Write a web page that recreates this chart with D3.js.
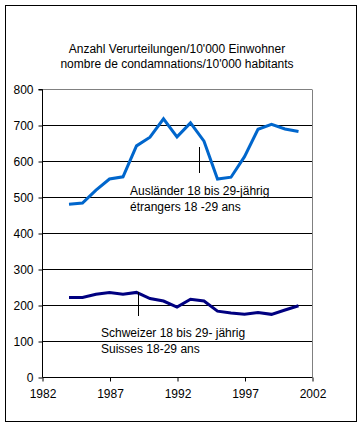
<!DOCTYPE html>
<html>
<head>
<meta charset="utf-8">
<script src="https://cdn.jsdelivr.net/npm/d3@7"></script>
<style>
  body { margin: 0; background: #fff; }
  text { font-family: Arial, "Liberation Sans", sans-serif; }
</style>
</head>
<body>
<div id="chart"></div>
<script>
const years = [1984, 1985, 1986, 1987, 1988, 1989, 1990, 1991, 1992, 1993,
  1994, 1995, 1996, 1997, 1998, 1999, 2000, 2001];
const auslaender = [480, 483, 519, 550, 556, 642, 666, 717, 667, 706,
  655, 550, 555, 612, 688, 702, 689, 682];
const schweizer = [221, 221, 230, 235, 230, 235, 218, 211, 194, 216,
  211, 183, 178, 174, 179, 174, 186, 198];
const xTicks = [1982, 1987, 1992, 1997, 2002];
const yTicks = [0, 100, 200, 300, 400, 500, 600, 700, 800];
const titleLines = ["Anzahl Verurteilungen/10'000 Einwohner",
  "nombre de condamnations/10'000 habitants"];
const auslLabel = ["Ausländer 18 bis 29-jährig", "étrangers 18 -29 ans"];
const schwLabel = ["Schweizer 18 bis 29- jährig", "Suisses 18-29 ans"];

const width = 364;
const height = 428;
const plotL = 42, plotR = 312, plotT = 89, plotB = 377;

const svg = d3.select("#chart")
  .append("svg")
  .attr("width", width)
  .attr("height", height);

svg.append("rect")
  .attr("x", 5.5).attr("y", 5.5)
  .attr("width", 351).attr("height", 416)
  .attr("fill", "#fff")
  .attr("stroke", "#000");

const x = d3.scaleLinear().domain([1982, 2002]).range([plotL, plotR]);
const y = d3.scaleLinear().domain([0, 800]).range([plotB, plotT]);

// title
svg.append("g").selectAll("text")
  .data(titleLines)
  .join("text")
  .attr("x", 177)
  .attr("y", (d, i) => 53 + i * 15)
  .attr("text-anchor", "middle")
  .attr("font-size", 12)
  .text(d => d);

// gridlines
svg.append("g").selectAll("line")
  .data(yTicks.filter(v => v > 0))
  .join("line")
  .attr("x1", plotL).attr("x2", plotR)
  .attr("y1", d => Math.round(y(d)) + 0.5)
  .attr("y2", d => Math.round(y(d)) + 0.5)
  .attr("stroke", d => d === 800 ? "#808080" : "#000");

// right border of plot area
svg.append("line")
  .attr("x1", plotR + 0.5).attr("x2", plotR + 0.5)
  .attr("y1", plotT + 0.5).attr("y2", plotB)
  .attr("stroke", "#808080");

const xAxis = svg.append("g")
  .attr("transform", `translate(0.5, ${plotB + 0.5})`)
  .call(d3.axisBottom(x).tickValues(xTicks).tickFormat(d3.format("d")).tickSize(4).tickPadding(8));

const yAxis = svg.append("g")
  .attr("transform", `translate(${plotL + 0.5}, 0.5)`)
  .call(d3.axisLeft(y).tickValues(yTicks).tickSize(4).tickPadding(5));

[xAxis, yAxis].forEach(a => {
  a.select(".domain").attr("stroke", "#000");
  a.selectAll("text").attr("font-size", 12).attr("font-family", "Arial, 'Liberation Sans', sans-serif").attr("fill", "#000");
});
yAxis.select(".domain").attr("d", `M-4,${plotT}H0V${plotB}`);
xAxis.select(".domain").attr("d", `M${plotL},0H${plotR}`);

const line = d3.line()
  .x((d, i) => x(years[i]))
  .y(d => y(d));

svg.append("path")
  .datum(auslaender)
  .attr("d", line)
  .attr("fill", "none")
  .attr("stroke", "#0066cc")
  .attr("stroke-width", 3);

svg.append("path")
  .datum(schweizer)
  .attr("d", line)
  .attr("fill", "none")
  .attr("stroke", "#000080")
  .attr("stroke-width", 3);

// label pointers
svg.append("line")
  .attr("x1", 199.5).attr("x2", 199.5)
  .attr("y1", 147).attr("y2", 173)
  .attr("stroke", "#000");
svg.append("line")
  .attr("x1", 138.5).attr("x2", 138.5)
  .attr("y1", 292).attr("y2", 316)
  .attr("stroke", "#000");

svg.append("g").selectAll("text")
  .data(auslLabel)
  .join("text")
  .attr("x", 130)
  .attr("y", (d, i) => 195 + i * 16)
  .attr("font-size", 12)
  .text(d => d);

svg.append("g").selectAll("text")
  .data(schwLabel)
  .join("text")
  .attr("x", 101)
  .attr("y", (d, i) => 337 + i * 16)
  .attr("font-size", 12)
  .text(d => d);
</script>
</body>
</html>
